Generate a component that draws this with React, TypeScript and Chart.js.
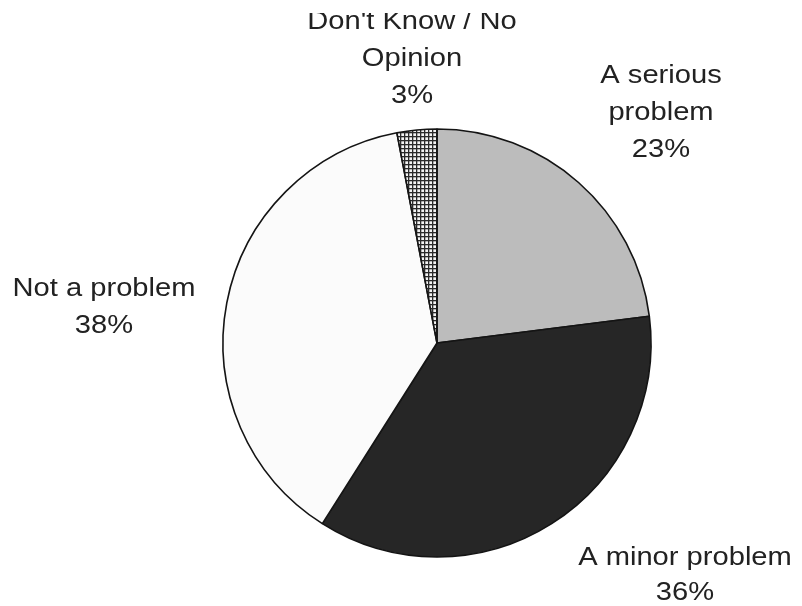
import React, { useEffect, useRef } from "react";
import { Chart, registerables } from "chart.js";

Chart.register(...registerables);

const categories = ["A serious problem", "A minor problem", "Not a problem", "Don't Know / No Opinion"];
const values = [23, 36, 38, 3];
const labelLines = [
  ["A serious", "problem", "23%"],
  ["A minor problem", "36%"],
  ["Not a problem", "38%"],
  ["Don't Know / No", "Opinion", "3%"],
];

// layout: first-baseline offset of each label block from pie centre
const labelOffsets = [
  [224, -260],
  [248, 222],
  [-333, -47],
  [-25, -314],
];
const lineGaps = [37, 35, 37, 37];

function makeHatch(): CanvasPattern | string {
  const c = document.createElement("canvas");
  c.width = 4;
  c.height = 4;
  const g = c.getContext("2d");
  if (!g) return "#999";
  g.fillStyle = "#f4f4f4";
  g.fillRect(0, 0, 4, 4);
  g.fillStyle = "#2a2a2a";
  g.fillRect(0, 0, 4, 1.3);
  g.fillRect(0, 0, 1.3, 4);
  const p = g.createPattern(c, "repeat");
  return p || "#999";
}

const labelPlugin = {
  id: "pieLabels",
  afterDraw(chart: any) {
    const meta = chart.getDatasetMeta(0);
    const ctx = chart.ctx;
    ctx.save();
    // the source scan is cropped just above the first label line
    ctx.beginPath();
    ctx.rect(0, 13, chart.width, chart.height - 13);
    ctx.clip();
    ctx.fillStyle = "#222";
    ctx.font = "26px 'Liberation Sans', Arial, sans-serif";
    ctx.textAlign = "center";
    ctx.textBaseline = "alphabetic";
    meta.data.forEach((arc: any, i: number) => {
      const cx = arc.x + labelOffsets[i][0];
      const cy = arc.y + labelOffsets[i][1];
      labelLines[i].forEach((line, j) => {
        ctx.save();
        ctx.translate(cx, cy + j * lineGaps[i]);
        ctx.scale(1.12, 1);
        ctx.fillText(line, 0, 0);
        ctx.restore();
      });
    });
    ctx.restore();
  },
};

export default function App() {
  const ref = useRef<HTMLCanvasElement | null>(null);
  useEffect(() => {
    if (!ref.current) return;
    const chart = new Chart(ref.current, {
      type: "pie",
      data: {
        labels: categories,
        datasets: [
          {
            data: values,
            backgroundColor: ["#bcbcbc", "#262626", "#fbfbfb", makeHatch()],
            borderColor: "#141414",
            borderWidth: 1.6,
            hoverOffset: 0,
          },
        ],
      },
      options: {
        responsive: false,
        animation: false,
        radius: 214,
        layout: { padding: { left: 72, right: 0, top: 80, bottom: 0 } },
        plugins: {
          legend: { display: false },
          tooltip: { enabled: false },
        },
      },
      plugins: [labelPlugin],
    });
    return () => chart.destroy();
  }, []);
  return (
    <div style={{ position: "fixed", left: 0, top: 0, width: 802, height: 606, background: "#fff" }}>
      <canvas ref={ref} width={802} height={606} />
    </div>
  );
}
